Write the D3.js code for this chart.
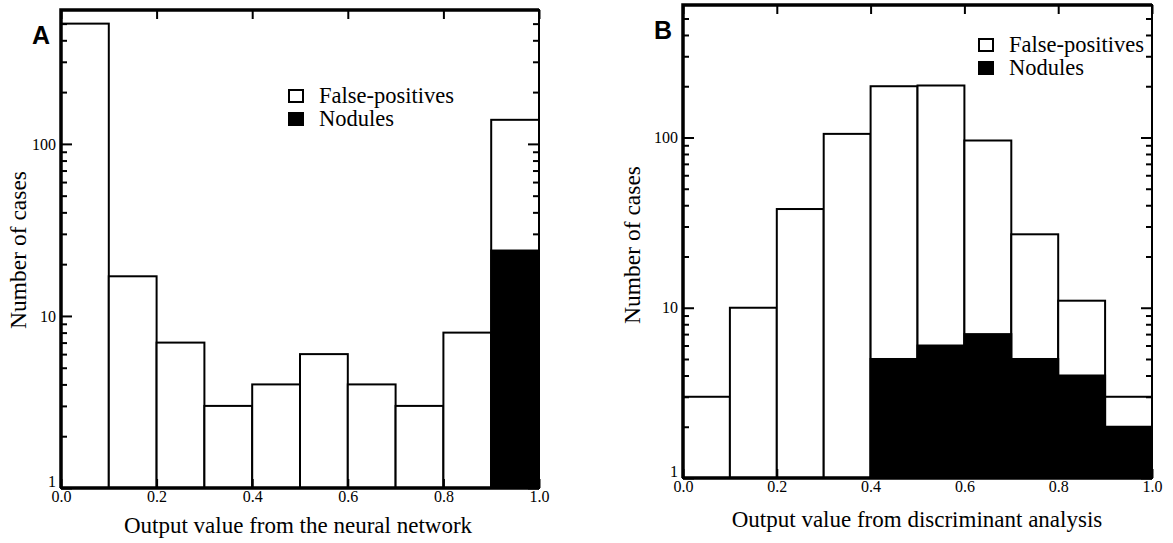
<!DOCTYPE html>
<html>
<head>
<meta charset="utf-8">
<script src="https://cdn.jsdelivr.net/npm/d3@7"></script>
<style>
  body { margin: 0; background: #fff; }
  svg { display: block; }
  .domain { stroke: none; }
  .tick line { stroke: #000; stroke-width: 2; }
</style>
</head>
<body>
<svg id="chart" width="1173" height="543"></svg>
<script>
// bin lower edges (0.0 .. 0.9), each 0.1 wide
const binEdges = [0.0, 0.1, 0.2, 0.3, 0.4, 0.5, 0.6, 0.7, 0.8, 0.9];
const xTicks = [0, 0.2, 0.4, 0.6, 0.8, 1.0];
const yMajor = [1, 10, 100];
const yMinor = [2, 3, 4, 5, 6, 7, 8, 9, 20, 30, 40, 50, 60, 70, 80, 90, 200, 300, 400, 500];

// panel A: neural network output
const fpA = [500, 17, 7, 3, 4, 6, 4, 3, 8, 114];
const nodA = [0, 0, 0, 0, 0, 0, 0, 0, 0, 24];

// panel B: discriminant analysis output
const fpB = [3, 10, 38, 105, 195, 196, 89, 22, 7, 1];
const nodB = [0, 0, 0, 0, 5, 6, 7, 5, 4, 2];

const legendLabels = ["False-positives", "Nodules"];

const SERIF = '"Liberation Serif"';
const SANS = '"Liberation Sans"';

const svg = d3.select("#chart");

function panel(p) {
  const x = d3.scaleLinear().domain([0, 1]).range([p.left, p.right]);
  const y = d3.scaleLog().domain([1, 600]).range([p.bottom, p.top]);
  const g = svg.append("g");

  const rows = binEdges.map((b, i) => ({ b: b, fp: p.fp[i], nod: p.nod[i] }));

  // total bars (white), nodules drawn on top in black
  g.selectAll("rect.tot").data(rows).enter().append("rect")
    .attr("class", "tot")
    .attr("x", d => x(d.b))
    .attr("width", d => x(d.b + 0.1) - x(d.b))
    .attr("y", d => y(d.fp + d.nod))
    .attr("height", d => y(1) - y(d.fp + d.nod))
    .attr("fill", "#fff").attr("stroke", "#000").attr("stroke-width", 2);

  g.selectAll("rect.nod").data(rows.filter(d => d.nod > 0)).enter().append("rect")
    .attr("class", "nod")
    .attr("x", d => x(d.b))
    .attr("width", d => x(d.b + 0.1) - x(d.b))
    .attr("y", d => y(d.nod))
    .attr("height", d => y(1) - y(d.nod))
    .attr("fill", "#000").attr("stroke", "#000").attr("stroke-width", 2);

  // frame
  g.append("rect")
    .attr("x", p.left).attr("y", p.top)
    .attr("width", p.right - p.left).attr("height", p.bottom - p.top)
    .attr("fill", "none").attr("stroke", "#000").attr("stroke-width", 2);
  g.append("path")
    .attr("d", `M${p.left},${p.bottom}V${p.top}H${p.right}M${p.left},${p.bottom}H${p.right}`)
    .attr("fill", "none").attr("stroke", "#000").attr("stroke-width", 3.5);

  // x axes (bottom labelled, top mirrored)
  g.append("g").attr("transform", `translate(0,${p.bottom})`)
    .call(d3.axisBottom(x).tickValues(xTicks).tickFormat(d3.format(".1f"))
      .tickSizeInner(-9).tickSizeOuter(0).tickPadding(3))
    .call(s => s.selectAll("text").attr("font-size", 16).style("font-family", SERIF));
  g.append("g").attr("transform", `translate(0,${p.top})`)
    .call(d3.axisTop(x).tickValues(xTicks).tickFormat("").tickSizeInner(-9).tickSizeOuter(0));

  // y axes (left labelled, right mirrored), major + minor ticks
  g.append("g").attr("transform", `translate(${p.left},0)`)
    .call(d3.axisLeft(y).tickValues(yMajor).tickFormat(d3.format("d"))
      .tickSizeInner(-11).tickSizeOuter(0).tickPadding(5))
    .call(s => s.selectAll("text").attr("font-size", 16).style("font-family", SERIF))
    .call(s => s.selectAll(".tick").filter(d => d === 1).select("text").attr("dy", "-0.1em"));
  g.append("g").attr("transform", `translate(${p.left},0)`)
    .call(d3.axisLeft(y).tickValues(yMinor).tickFormat("").tickSizeInner(-6).tickSizeOuter(0));
  g.append("g").attr("transform", `translate(${p.right},0)`)
    .call(d3.axisRight(y).tickValues(yMajor).tickFormat("").tickSizeInner(-11).tickSizeOuter(0));
  g.append("g").attr("transform", `translate(${p.right},0)`)
    .call(d3.axisRight(y).tickValues(yMinor).tickFormat("").tickSizeInner(-6).tickSizeOuter(0));

  // titles
  g.append("text")
    .attr("x", p.xTitleX).attr("y", p.xTitleY)
    .attr("text-anchor", "middle").attr("font-size", 23)
    .style("font-family", SERIF)
    .text(p.xTitle);
  g.append("text")
    .attr("transform", `translate(${p.yTitleX},${p.yTitleY}) rotate(-90)`)
    .attr("text-anchor", "middle").attr("font-size", 23.5)
    .style("font-family", SERIF)
    .text("Number of cases");

  // panel letter
  g.append("text")
    .attr("x", p.letterX).attr("y", p.letterY)
    .attr("font-size", 25).attr("font-weight", "bold")
    .style("font-family", SANS)
    .text(p.letter);

  // legend
  const lg = g.append("g").attr("transform", `translate(${p.legX},${p.legY})`);
  legendLabels.forEach((t, i) => {
    lg.append("rect")
      .attr("x", 0).attr("y", i * 23 - 13).attr("width", 14).attr("height", 12)
      .attr("fill", i === 0 ? "#fff" : "#000").attr("stroke", "#000").attr("stroke-width", 2);
    lg.append("text").attr("x", 30).attr("y", i * 23)
      .attr("font-size", 22.5).style("font-family", SERIF).text(t);
  });
}

panel({
  left: 61, right: 539, top: 10, bottom: 488,
  fp: fpA, nod: nodA,
  xTitle: "Output value from the neural network", xTitleX: 298, xTitleY: 533,
  yTitleX: 26, yTitleY: 250,
  letter: "A", letterX: 32, letterY: 44,
  legX: 289, legY: 103
});

panel({
  left: 683, right: 1152, top: 5, bottom: 478,
  fp: fpB, nod: nodB,
  xTitle: "Output value from discriminant analysis", xTitleX: 917, xTitleY: 527,
  yTitleX: 640, yTitleY: 245,
  letter: "B", letterX: 654, letterY: 39,
  legX: 979, legY: 52
});
</script>
</body>
</html>
